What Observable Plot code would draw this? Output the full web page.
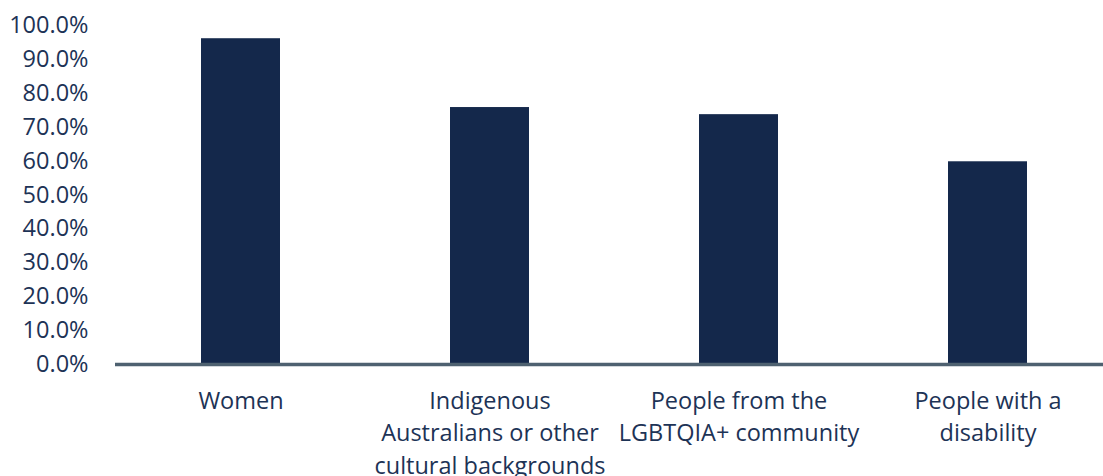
<!DOCTYPE html>
<html>
<head>
<meta charset="utf-8">
<script src="https://cdn.jsdelivr.net/npm/d3@7"></script>
<script src="https://cdn.jsdelivr.net/npm/@observablehq/plot@0.6"></script>
<style>
  html, body { margin: 0; padding: 0; background: #fff; }
  #chart { width: 1103px; height: 476px; }
</style>
</head>
<body>
<div id="chart"></div>
<script>
const categories = ["Women", "Indigenous", "LGBTQIA+", "Disability"];
const tickLabels = [
  "Women",
  "Indigenous\nAustralians or other\ncultural backgrounds",
  "People from the\nLGBTQIA+ community",
  "People with a\ndisability"
];
const values = [96.1, 75.8, 73.7, 59.8];
const yTicks = [0, 10, 20, 30, 40, 50, 60, 70, 80, 90, 100];

const data = categories.map((c, i) => ({ cat: c, value: values[i] }));
const labelOf = new Map(categories.map((c, i) => [c, tickLabels[i]]));

const textColor = "#1d3356";
const barColor = "#14284b";

const chart = Plot.plot({
  width: 1103,
  height: 476,
  marginTop: 25,
  marginBottom: 112,
  marginLeft: 115,
  marginRight: 0,
  style: { fontFamily: "'Open Sans', sans-serif", fontSize: "23.5px", color: textColor, background: "#fff", overflow: "visible" },
  x: {
    domain: categories,
    range: [115, 1113],
    paddingInner: 0.683,
    paddingOuter: 0.3415,
    label: null
  },
  y: {
    domain: [0, 100],
    label: null
  },
  marks: [
    Plot.barY(data, { x: "cat", y: "value", fill: barColor }),
    Plot.ruleY([0], { stroke: "#4e6170", strokeWidth: 3.5 }),
    Plot.axisY({
      ticks: yTicks,
      tickSize: 0,
      tickPadding: 27,
      tickFormat: d => d.toFixed(1) + "%",
      fontSize: 23.5,
      fill: textColor,
      label: null
    }),
    Plot.axisX({
      tickSize: 0,
      tickPadding: 21,
      tickFormat: d => labelOf.get(d),
      fontSize: 23.5,
      lineHeight: 1.39,
      lineWidth: 100,
      fill: textColor,
      label: null
    })
  ]
});
document.getElementById("chart").appendChild(chart);
</script>
</body>
</html>
